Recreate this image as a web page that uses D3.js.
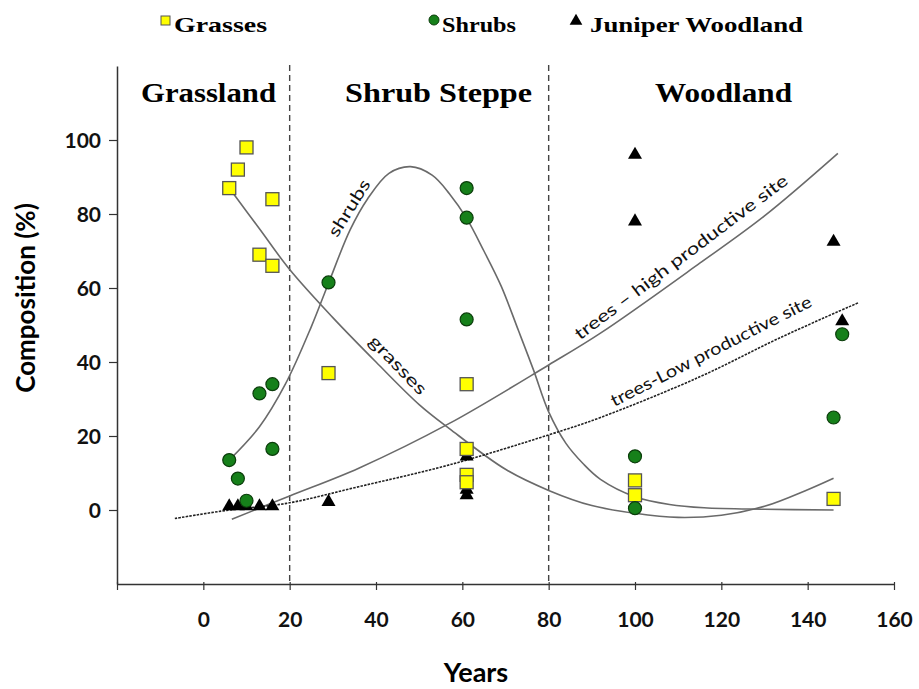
<!DOCTYPE html>
<html>
<head>
<meta charset="utf-8">
<script src="https://cdn.jsdelivr.net/npm/d3@7"></script>
<style>
  body { margin: 0; background: #fff; }
  svg { display: block; }
</style>
</head>
<body>
<div id="chart"></div>
<script>
// --- data (years, % composition) ---
const grassYears = [6, 8, 10, 16, 13, 16, 29, 61, 61, 61, 61, 100, 100, 146];
const grassComp = [87, 92, 98, 84, 69, 66, 37, 34, 16.5, 9.5, 7.5, 8, 4, 3];

const shrubYears = [6, 8, 10, 13, 16, 16, 29, 61, 61, 61, 100, 100, 146, 148];
const shrubComp = [13.5, 8.5, 2.5, 31.5, 34, 16.5, 61.5, 87, 79, 51.5, 14.5, 0.5, 25, 47.5];

const juniperYears = [6, 8, 10, 13, 16, 29, 61, 61, 61, 100, 100, 146, 148];
const juniperComp = [1, 1, 1, 1, 1, 2.2, 4, 5.5, 14.5, 96, 78, 72.5, 51];

// fitted trend lines
const grassFit = [[6, 87], [13, 76], [20, 65], [30, 52], [40, 40], [50, 28.5], [57, 22], [70, 11],
  [80, 5.3], [90, 1.2], [100, -0.9], [110, -2], [120, -1.4], [130, 1], [140, 5.5], [146, 8.6]];
const shrubFit = [[6, 13.5], [13, 22.5], [19, 34], [25, 49.5], [29, 61.3], [34, 75.7], [38, 84],
  [43, 91], [48, 92.8], [53, 90.5], [57, 85.5], [61, 78.8], [65, 70], [69, 60.5], [73, 48.5],
  [76.5, 37.8], [80, 26.5], [84, 18], [88, 12.5], [92, 8.3], [100, 3.6], [108, 1.5], [116, 0.6],
  [130, 0.2], [146, 0]];
const treesHighFit = [[6.6, -2.5], [20, 3.8], [36, 11.3], [57, 23.4], [80, 39.2], [92, 47.8],
  [115, 66.7], [130, 79.5], [147, 96.4]];
const treesLowFit = [[-6.6, -2.3], [6, 0], [19.3, 1.8], [36, 6.3], [57, 12.2], [80, 20.3], [92, 25],
  [115, 36], [133.5, 46.5], [151.7, 56]];

const xTicks = [-20, 0, 20, 40, 60, 80, 100, 120, 140, 160];
const yTicks = [0, 20, 40, 60, 80, 100];
const zoneBreaks = [20, 80];
const zoneNames = ["Grassland", "Shrub Steppe", "Woodland"];
const legendNames = ["Grasses", "Shrubs", "Juniper Woodland"];

const width = 919, height = 689;

const svg = d3
  .select("#chart")
  .append("svg")
  .attr("width", width)
  .attr("height", height);

const x = d3.scaleLinear().domain([-20, 160]).range([117, 894]);
const y = d3.scaleLinear().domain([-20, 120]).range([584, 66]);

const axisColor = "#333";
const sansFont = "Lato, 'Open Sans', sans-serif";
const serifFont = "'Liberation Serif', 'Times New Roman', serif";

// y axis
const yAxis = svg
  .append("g")
  .attr("transform", `translate(${x(-20)},0)`)
  .call(d3.axisLeft(y).tickValues(yTicks).tickSize(8).tickSizeOuter(0).tickPadding(8));
yAxis.select(".domain").attr("stroke", axisColor).attr("stroke-width", 1.5);
yAxis.selectAll(".tick line").attr("stroke", axisColor).attr("stroke-width", 1.2);
yAxis
  .selectAll(".tick text")
  .attr("fill", "#111")
  .attr("dy", "0.36em")
  .style("font-family", sansFont)
  .style("font-weight", "bold")
  .style("font-size", "21px");

// x axis
const xAxis = svg
  .append("g")
  .attr("transform", `translate(0,${y(-20)})`)
  .call(
    d3.axisBottom(x)
      .tickValues(xTicks)
      .tickFormat((d) => (d === -20 ? "" : d))
      .tickSize(6)
      .tickSizeOuter(0)
      .tickPadding(22)
  );
xAxis.select(".domain").attr("stroke", axisColor).attr("stroke-width", 1.5);
xAxis.selectAll(".tick line").attr("stroke", axisColor).attr("stroke-width", 1.2).attr("y1", -2);
xAxis
  .selectAll(".tick text")
  .attr("fill", "#111")
  .style("font-family", sansFont)
  .style("font-weight", "bold")
  .style("font-size", "21px");

// axis titles
svg
  .append("text")
  .attr("transform", "translate(35,298) rotate(-90)")
  .attr("text-anchor", "middle")
  .style("font-family", sansFont)
  .style("font-weight", "bold")
  .style("font-size", "26px")
  .text("Composition (%)");

svg
  .append("text")
  .attr("x", 476)
  .attr("y", 682)
  .attr("text-anchor", "middle")
  .style("font-family", sansFont)
  .style("font-weight", "bold")
  .style("font-size", "27px")
  .text("Years");

// zone separators
svg
  .selectAll(".zoneLine")
  .data(zoneBreaks)
  .enter()
  .append("line")
  .attr("class", "zoneLine")
  .attr("x1", (d) => x(d))
  .attr("x2", (d) => x(d))
  .attr("y1", 65)
  .attr("y2", y(-20))
  .attr("stroke", "#444")
  .attr("stroke-width", 1.4)
  .attr("stroke-dasharray", "6,4");

const zoneCenters = [1.2, 54.5, 120.5];
const zoneLen = [135, 187, 137];
svg
  .selectAll(".zoneLabel")
  .data(zoneNames)
  .enter()
  .append("text")
  .attr("class", "zoneLabel")
  .attr("x", (d, i) => x(zoneCenters[i]))
  .attr("y", 102)
  .attr("text-anchor", "middle")
  .attr("textLength", (d, i) => zoneLen[i])
  .attr("lengthAdjust", "spacingAndGlyphs")
  .style("font-family", serifFont)
  .style("font-weight", "bold")
  .style("font-size", "27px")
  .text((d) => d);

// trend curves
const line = d3
  .line()
  .x((d) => x(d[0]))
  .y((d) => y(d[1]))
  .curve(d3.curveCatmullRom.alpha(0.5));

[grassFit, shrubFit, treesHighFit].forEach((pts) => {
  svg
    .append("path")
    .datum(pts)
    .attr("d", line)
    .attr("fill", "none")
    .attr("stroke", "#6a6a6a")
    .attr("stroke-width", 1.6);
});

svg
  .append("path")
  .datum(treesLowFit)
  .attr("d", line)
  .attr("fill", "none")
  .attr("stroke", "#222")
  .attr("stroke-width", 1.6)
  .attr("stroke-dasharray", "2.5,1.2");

// curve labels
const curveLabels = [
  { text: "shrubs", cx: 349, cy: 208, angle: -58, len: 64 },
  { text: "grasses", cx: 398, cy: 365, angle: 46, len: 75 },
  { text: "trees \u2013 high productive site", cx: 681, cy: 257, angle: -37, len: 262 },
  { text: "trees-Low productive site", cx: 711, cy: 351, angle: -27, len: 223 },
];
svg
  .selectAll(".curveLabel")
  .data(curveLabels)
  .enter()
  .append("text")
  .attr("class", "curveLabel")
  .attr("transform", (d) => `translate(${d.cx},${d.cy}) rotate(${d.angle})`)
  .attr("text-anchor", "middle")
  .attr("dy", "0.35em")
  .attr("textLength", (d) => d.len)
  .attr("lengthAdjust", "spacingAndGlyphs")
  .style("font-family", sansFont)
  .style("font-size", "17px")
  .attr("fill", "#111")
  .text((d) => d.text);

// markers
const triangle = d3.symbol().type(d3.symbolTriangle);
const grassData = grassYears.map((d, i) => [d, grassComp[i]]);
const shrubData = shrubYears.map((d, i) => [d, shrubComp[i]]);
const juniperData = juniperYears.map((d, i) => [d, juniperComp[i]]);

svg
  .selectAll(".juniper")
  .data(juniperData)
  .enter()
  .append("path")
  .attr("class", "juniper")
  .attr("d", triangle.size(85))
  .attr("transform", (d) => `translate(${x(d[0])},${y(d[1])})`)
  .attr("fill", "#000");

svg
  .selectAll(".grass")
  .data(grassData)
  .enter()
  .append("rect")
  .attr("class", "grass")
  .attr("x", (d) => x(d[0]) - 6.5)
  .attr("y", (d) => y(d[1]) - 6.5)
  .attr("width", 13)
  .attr("height", 13)
  .attr("fill", "#ffff00")
  .attr("stroke", "#555")
  .attr("stroke-width", 1.3);

svg
  .selectAll(".shrub")
  .data(shrubData)
  .enter()
  .append("circle")
  .attr("class", "shrub")
  .attr("cx", (d) => x(d[0]))
  .attr("cy", (d) => y(d[1]))
  .attr("r", 6.5)
  .attr("fill", "#16801a")
  .attr("stroke", "#0b3d0b")
  .attr("stroke-width", 1.2);

// legend
const legend = svg.append("g").attr("class", "legend");
const legendX = [174, 442, 590];
const legendLen = [93, 74, 213];
legend
  .selectAll("text")
  .data(legendNames)
  .enter()
  .append("text")
  .attr("x", (d, i) => legendX[i])
  .attr("y", 32)
  .attr("textLength", (d, i) => legendLen[i])
  .attr("lengthAdjust", "spacingAndGlyphs")
  .style("font-family", serifFont)
  .style("font-weight", "bold")
  .style("font-size", "22px")
  .text((d) => d);

legend
  .append("rect")
  .attr("x", 161)
  .attr("y", 16)
  .attr("width", 9)
  .attr("height", 9)
  .attr("fill", "#ffff00")
  .attr("stroke", "#555")
  .attr("stroke-width", 1);
legend
  .append("circle")
  .attr("cx", 434)
  .attr("cy", 20)
  .attr("r", 5)
  .attr("fill", "#16801a")
  .attr("stroke", "#0b3d0b");
legend
  .append("path")
  .attr("d", triangle.size(70))
  .attr("transform", "translate(576,21)")
  .attr("fill", "#000");
</script>
</body>
</html>
